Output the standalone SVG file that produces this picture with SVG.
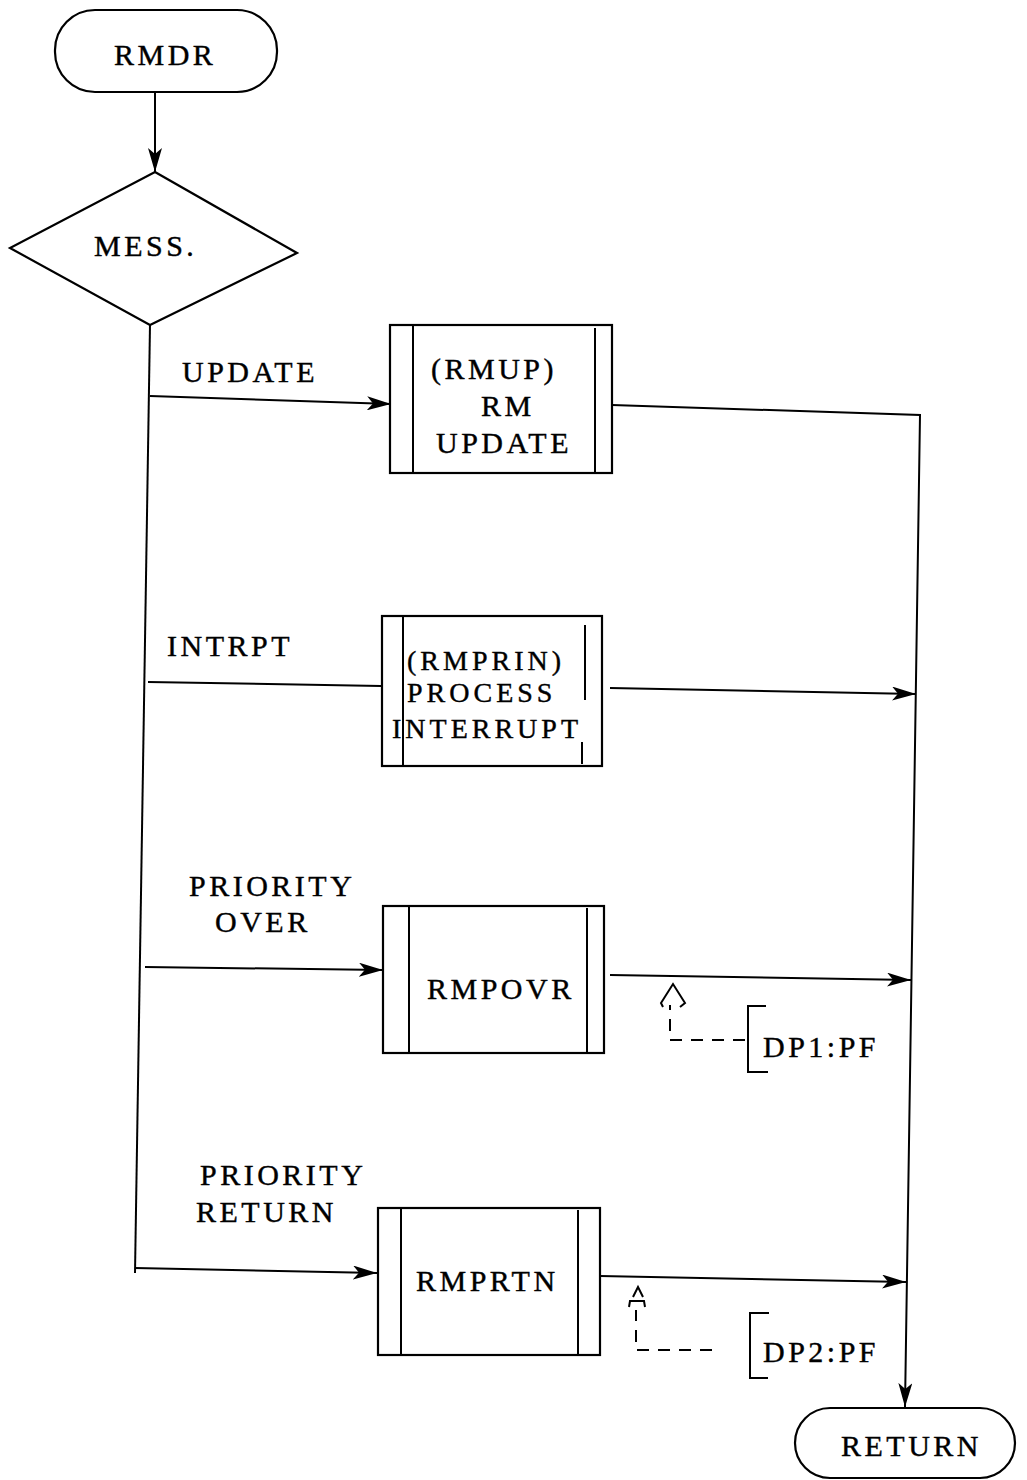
<svg xmlns="http://www.w3.org/2000/svg" width="1027" height="1480" viewBox="0 0 1027 1480">
<style>
.s{fill:none;stroke:#000;stroke-width:2}
.b{fill:#fff;stroke:#000;stroke-width:2.2}
.d{fill:none;stroke:#000;stroke-width:2;stroke-dasharray:12 9}
text{font-family:"Liberation Serif","Times New Roman",serif;font-size:30px;letter-spacing:3.5px;fill:#000;stroke:#000;stroke-width:0.4}
.sm{font-size:28px;letter-spacing:4px}
</style>
<defs>
<marker id="ah" viewBox="0 0 24 14" refX="24" refY="7" markerWidth="24" markerHeight="14" markerUnits="userSpaceOnUse" orient="auto">
<path d="M0,0 L24,7 L0,14 L6,7 Z" fill="#000"/>
</marker>
</defs>
<rect width="1027" height="1480" fill="#fff"/>
<g id="connectors">
<path class="s" d="M155,92 L155,172" marker-end="url(#ah)"/>
<path class="s" d="M150,325 L135,1273"/>
<path class="s" d="M150,396 L391,404" marker-end="url(#ah)"/>
<path class="s" d="M612,405 L920,415 L905,1407" marker-end="url(#ah)"/>
<path class="s" d="M148,682 L381,686"/>
<path class="s" d="M610,688 L916,694" marker-end="url(#ah)"/>
<path class="s" d="M145,967 L383,970" marker-end="url(#ah)"/>
<path class="s" d="M610,975 L911,980" marker-end="url(#ah)"/>
<path class="s" d="M135,1268 L377,1273" marker-end="url(#ah)"/>
<path class="s" d="M600,1276 L906,1282" marker-end="url(#ah)"/>
<path class="d" d="M745,1040 L670,1040 L670,1005"/>
<path class="s" d="M663,1007 L661,1003 L673,984 L685,1003 L680,1007"/>
<path class="d" d="M712,1350 L636,1350 L636,1310"/>
<path class="s" d="M629,1307 L630,1301 L644,1301 L645,1307 M633,1297 L638,1287 L643,1297"/>
</g>
<g id="rmdr">
<rect class="b" x="55" y="10" width="222" height="82" rx="40"/>
<text x="114" y="65">RMDR</text>
</g>
<g id="mess">
<path class="b" d="M155,172 L297,253 L150,325 L10,248 Z"/>
<text x="94" y="256">MESS.</text>
</g>
<g id="lbl-update"><text x="182" y="382">UPDATE</text></g>
<g id="rmup">
<rect class="b" x="390" y="325" width="222" height="148"/>
<path class="s" d="M413,325 V473 M595,328 V472"/>
<text x="431" y="379">(RMUP)</text>
<text x="481" y="416">RM</text>
<text x="436" y="453">UPDATE</text>
</g>
<g id="lbl-intrpt"><text x="167" y="656">INTRPT</text></g>
<g id="rmprin">
<rect class="b" x="382" y="616" width="220" height="150"/>
<path class="s" d="M403,616 V766 M585,625 V700 M582,742 V764"/>
<text class="sm" x="407" y="670">(RMPRIN)</text>
<text class="sm" x="407" y="702">PROCESS</text>
<text class="sm" x="392" y="738">INTERRUPT</text>
</g>
<g id="lbl-over">
<text x="189" y="896">PRIORITY</text>
<text x="215" y="932">OVER</text>
</g>
<g id="rmpovr">
<rect class="b" x="383" y="906" width="221" height="147"/>
<path class="s" d="M409,906 V1053 M587,908 V1053"/>
<text x="427" y="999">RMPOVR</text>
</g>
<g id="dp1">
<path class="s" d="M766,1006 L748,1006 L748,1072 L768,1072"/>
<text x="763" y="1057">DP1:PF</text>
</g>
<g id="lbl-return">
<text x="200" y="1185">PRIORITY</text>
<text x="196" y="1222">RETURN</text>
</g>
<g id="rmprtn">
<rect class="b" x="378" y="1208" width="222" height="147"/>
<path class="s" d="M401,1208 V1355 M578,1210 V1355"/>
<text x="416" y="1291">RMPRTN</text>
</g>
<g id="dp2">
<path class="s" d="M769,1313 L750,1313 L750,1378 L768,1378"/>
<text x="763" y="1362">DP2:PF</text>
</g>
<g id="ret">
<rect class="b" x="795" y="1408" width="220" height="70" rx="35"/>
<text x="841" y="1456">RETURN</text>
</g>
</svg>
